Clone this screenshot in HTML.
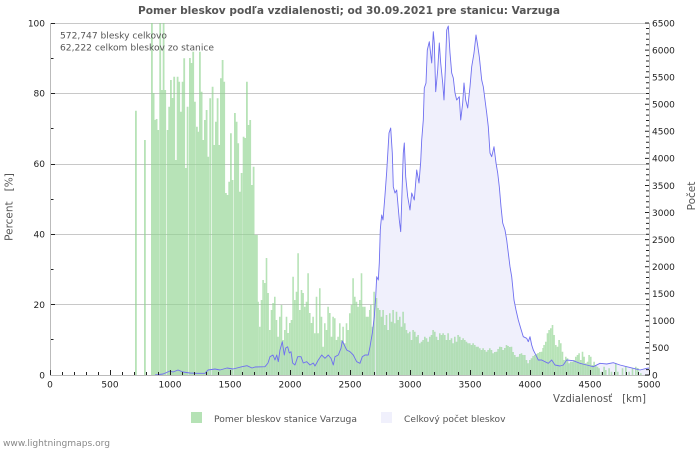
<!DOCTYPE html>
<html><head><meta charset="utf-8"><style>
html,body{margin:0;padding:0;background:#fff;}
svg{display:block;font-family:"DejaVu Sans","Liberation Sans",sans-serif;}
</style></head><body>
<svg width="700" height="450" viewBox="0 0 700 450" xmlns="http://www.w3.org/2000/svg">
<rect width="700" height="450" fill="#fff"/>
<!-- grid -->
<g stroke="#c8c8c8" stroke-width="1">
<line x1="50" y1="23.5" x2="649" y2="23.5"/>
<line x1="50" y1="93.5" x2="649" y2="93.5"/>
<line x1="50" y1="164.5" x2="649" y2="164.5"/>
<line x1="50" y1="234.5" x2="649" y2="234.5"/>
<line x1="50" y1="304.5" x2="649" y2="304.5"/>
</g>
<!-- lavender area -->
<polygon fill="#f0f0fc" points="155,375 163,374 170,371 173,372 178,370 183,372 190,373 197,373.3 205,373.3 208,370 215,369 220,370 227,368 233,369 242,366.7 247,365.7 252,368 255,367 265,366.7 268,363 270,356.7 273,355 275,360 276.7,355 278.3,361.7 280,350 282.3,341.7 284.3,355 285.7,348 287.7,346.7 289.3,353 291,351.7 292.7,363 295,365 297.7,356.7 301,356.7 303.3,363 306.7,361.7 310,365 313.3,363 315,366 318.3,360 321.7,355 325,358.3 328.3,355 331,358.3 333.3,365 335,356.7 338.3,355 341,348.3 342.3,341 344.3,345 346.7,350 350,351.7 353.3,355 356.7,361.7 360,363.3 362.3,356.7 365,355 368.3,355 370,346.7 372.3,333.3 374.3,316.7 375.7,296.7 376.7,276.7 378.3,280 379.3,263 380.3,230 380.7,225 381.7,215 383,220 385,195 386.7,171.7 389,133 390.7,128 392.3,153 393.3,186.7 395,193 396.7,190 399.3,220 400.7,231.7 401.7,201.7 403.3,153 404.3,143 405.7,176.7 407.7,196.7 410,210 411.7,193 414.3,200 416.7,170 419,183 420.7,161.7 421.7,140 423.3,120 424.3,88 426,83 427.3,50 429.3,41.7 431.7,63 433.3,31.7 434.3,43 435.7,91.7 437.7,70 439.3,43 440.7,63 442.7,83 444,100 445.3,70 446.7,30 448.3,26 450,53 451.7,73 453.3,78 455,93 456.7,100 459.3,96.7 460.7,120 462.7,103 464,83 465.7,100 467.7,108 470,86.7 471.7,66.7 474,53 476,35 477.3,43 479.3,56.7 481.7,80 483.3,86.7 485,100 486.7,113 488.3,126.7 490,153 491.7,156.7 494,146.7 496,163 497.7,173 499.3,186.7 501,206.7 502.7,223 505,230 506.7,240 508.3,253 510,266.7 511.7,276.7 512.7,286.7 514,300 516,310 518.3,320 520.7,328.3 523.3,336.7 526.7,338.3 528.3,341.7 530,336.7 531.7,345 533.3,350 535,353.3 536.7,356.7 538.3,360 541.7,360 545,361.7 548.3,363.3 551.7,360 555,365 560,366 563.3,365 566.7,360 573.3,360.7 580,363.3 586.7,365 593.3,366.7 600,363.3 606.7,364 613.3,362.7 620,365 626.7,366.7 633.3,368.3 640,370 646.7,368.3 649,368 649,375"/>
<!-- bars -->
<path fill="rgba(145,212,145,0.66)" d="
M135 375V110.7h1.8V375zM144 375V140h1.8V375zM151 375V23h1.8V375zM152.7 375V93h1.8V375zM154.3 375V120h1.8V375zM155.7 375V119h1.8V375zM157.3 375V130h1.8V375zM159.3 375V23h1.8V375zM161 375V90h1.8V375zM162.7 375V23h1.8V375zM164.3 375V90h1.8V375zM166.7 375V130h1.8V375zM168.3 375V106.7h1.8V375zM170 375V80h1.8V375zM171.7 375V98h1.8V375zM173.3 375V76.7h1.8V375zM175 375V160h1.8V375zM176.7 375V76.7h1.8V375zM178.3 375V81.7h1.8V375zM180 375V111.7h1.8V375zM181.7 375V81.7h1.8V375zM183.3 375V58.3h1.8V375zM185 375V168h1.8V375zM186.7 375V106.7h1.8V375zM189 375V58h1.8V375zM190.7 375V63h1.8V375zM192.3 375V51.7h1.8V375zM194 375V101.7h1.8V375zM196 375V126.7h1.8V375zM197.3 375V131.7h1.8V375zM199 375V51.7h1.8V375zM200.7 375V91.7h1.8V375zM202.3 375V140h1.8V375zM204 375V120h1.8V375zM205.7 375V110h1.8V375zM207.3 375V156.7h1.8V375zM209.3 375V98.3h1.8V375zM211.7 375V86.7h1.8V375zM213.3 375V145h1.8V375zM215 375V121.7h1.8V375zM216.7 375V98.3h1.8V375zM218.3 375V145h1.8V375zM220 375V78.3h1.8V375zM221.7 375V60h1.8V375zM223.3 375V81.7h1.8V375zM225 375V193h1.8V375zM226.7 375V195h1.8V375zM228.3 375V181.7h1.8V375zM230 375V133.3h1.8V375zM231.7 375V180h1.8V375zM234 375V113h1.8V375zM235.7 375V121.7h1.8V375zM237.3 375V143.3h1.8V375zM239 375V191.7h1.8V375zM240.7 375V173h1.8V375zM242.7 375V136.7h1.8V375zM244.3 375V138h1.8V375zM246 375V81.7h1.8V375zM247.7 375V125h1.8V375zM249.3 375V120h1.8V375zM251 375V185h1.8V375zM252.7 375V166.7h1.8V375zM254.3 375V235h1.8V375zM256 375V235h1.8V375z
M257.3 375V301.7h1.6V375zM259 375V326.7h1.6V375zM260.7 375V300h1.6V375zM262.3 375V280h1.6V375zM264 375V283h1.6V375zM265.7 375V258h1.6V375zM267.3 375V293h1.6V375zM269 375V330h1.6V375zM270.7 375V310h1.6V375zM272.3 375V303h1.6V375zM274 375V296.7h1.6V375zM275.7 375V320h1.6V375zM277.3 375V336.7h1.6V375zM279 375V316.7h1.6V375zM280.7 375V305h1.6V375zM282.3 375V340h1.6V375zM284 375V330h1.6V375zM285.7 375V316.7h1.6V375zM287.3 375V333h1.6V375zM289 375V323h1.6V375zM290.7 375V320h1.6V375zM292.3 375V276.7h1.6V375zM294 375V300h1.6V375zM295.7 375V291.7h1.6V375zM297.3 375V253.3h1.6V375zM299 375V310h1.6V375zM300.7 375V290h1.6V375zM302.3 375V293h1.6V375zM304 375V306.7h1.6V375zM305.7 375V301.7h1.6V375zM307.3 375V273.3h1.6V375zM309 375V313h1.6V375zM310.7 375V323h1.6V375zM312.3 375V316.7h1.6V375zM314 375V333.3h1.6V375zM315.7 375V296.7h1.6V375zM317.3 375V333.3h1.6V375zM319 375V288.3h1.6V375zM320.7 375V316.7h1.6V375zM322.3 375V346.7h1.6V375zM324 375V323.3h1.6V375zM325.7 375V330h1.6V375zM327.3 375V306.7h1.6V375zM329 375V313h1.6V375zM330.7 375V336.7h1.6V375zM332.3 375V316.7h1.6V375zM334 375V318.3h1.6V375zM335.7 375V340h1.6V375zM337.3 375V336.7h1.6V375zM339 375V323.3h1.6V375zM340.7 375V340h1.6V375zM342.3 375V326.7h1.6V375zM344 375V343.3h1.6V375zM345.7 375V323.3h1.6V375zM347.3 375V330h1.6V375zM349 375V313.3h1.6V375zM350.7 375V305h1.6V375zM352.3 375V278.3h1.6V375zM354 375V296.7h1.6V375zM355.7 375V301.7h1.6V375zM357.3 375V306.7h1.6V375zM359 375V300h1.6V375zM360.7 375V273.3h1.6V375zM362.3 375V306.7h1.6V375zM364 375V306.7h1.6V375zM365.7 375V316.7h1.6V375zM367.3 375V316.7h1.6V375zM369 375V310h1.6V375z
M370 375V305h1.6V375zM371.7 375V326.7h1.6V375zM373.3 375V291.7h1.6V375zM375.7 375V298h1.6V375zM377.3 375V308h1.6V375zM379 375V310h1.6V375zM380.7 375V316.7h1.6V375zM382.3 375V310h1.6V375zM384 375V325h1.6V375zM385.7 375V315h1.6V375zM387.3 375V330h1.6V375zM389 375V313.3h1.6V375zM390.7 375V321.7h1.6V375zM392.3 375V310h1.6V375zM394 375V323.3h1.6V375zM395.7 375V311.7h1.6V375zM397.3 375V320h1.6V375zM399 375V316.7h1.6V375zM400.7 375V326.7h1.6V375zM402.3 375V311.7h1.6V375zM404 375V323.3h1.6V375zM405.7 375V330h1.6V375zM407.3 375V333.3h1.6V375zM409 375V331.7h1.6V375zM410.7 375V340h1.6V375zM412.3 375V330h1.6V375zM414 375V331.7h1.6V375zM415.7 375V336.7h1.6V375zM417.3 375V335h1.6V375zM419 375V343.3h1.6V375zM420.7 375V341.7h1.6V375zM422.3 375V340h1.6V375zM424 375V336.7h1.6V375zM425.7 375V338.3h1.6V375zM427.3 375V341.7h1.6V375zM429 375V336.7h1.6V375zM430.7 375V335h1.6V375zM432.3 375V330h1.6V375zM434 375V331.7h1.6V375zM435.7 375V336.7h1.6V375zM437.3 375V340h1.6V375zM439 375V333.3h1.6V375zM440.7 375V335h1.6V375zM442.3 375V333.3h1.6V375zM444 375V335h1.6V375zM445.7 375V340h1.6V375zM447.3 375V333.3h1.6V375zM449 375V340h1.6V375zM450.7 375V338.3h1.6V375zM452.3 375V343.3h1.6V375zM454 375V336.7h1.6V375zM455.7 375V341.7h1.6V375zM457.3 375V335h1.6V375zM459 375V336.7h1.6V375zM460.7 375V340h1.6V375zM462.3 375V338.3h1.6V375zM464 375V340h1.6V375zM465.7 375V341.7h1.6V375zM467.3 375V343.3h1.6V375zM469 375V343.3h1.6V375zM470.7 375V345h1.6V375zM472.3 375V343.3h1.6V375zM474 375V345h1.6V375zM475.7 375V346.7h1.6V375zM477.3 375V346.7h1.6V375zM479 375V348.3h1.6V375zM480.7 375V350h1.6V375zM482.3 375V348.3h1.6V375zM484 375V350h1.6V375zM485.7 375V351.7h1.6V375zM487.3 375V350h1.6V375zM489 375V348.3h1.6V375z
M490.7 375V350h1.6V375zM492.3 375V353.3h1.6V375zM494 375V352h1.6V375zM495.7 375V351.7h1.6V375zM497.3 375V349h1.6V375zM499 375V346.7h1.6V375zM500.7 375V347h1.6V375zM502.3 375V350h1.6V375zM504 375V348h1.6V375zM505.7 375V345h1.6V375zM507.3 375V346h1.6V375zM509 375V347h1.6V375zM510.7 375V346.7h1.6V375zM512.3 375V352h1.6V375zM514 375V355h1.6V375zM515.7 375V357h1.6V375zM517.3 375V356.7h1.6V375zM519 375V354h1.6V375zM520.7 375V353.3h1.6V375zM522.3 375V355h1.6V375zM524 375V355h1.6V375zM525.7 375V360h1.6V375zM527.3 375V363.3h1.6V375zM529 375V360h1.6V375zM530.7 375V358.3h1.6V375zM532.3 375V356h1.6V375zM534 375V355h1.6V375zM535.7 375V354h1.6V375zM537.3 375V353h1.6V375zM539 375V352h1.6V375zM540.7 375V351.7h1.6V375zM542.3 375V348h1.6V375zM543.3 375V345h1.6V375zM545 375V341.7h1.6V375zM546.7 375V333.3h1.6V375zM548.3 375V330h1.6V375zM550 375V328.3h1.6V375zM551.7 375V325h1.6V375zM553.3 375V335h1.6V375zM555 375V345h1.6V375zM556.7 375V346.7h1.6V375zM558.3 375V340h1.6V375zM560 375V343.3h1.6V375zM561.7 375V351.7h1.6V375zM563.3 375V360h1.6V375zM565 375V356.7h1.6V375zM566.7 375V358.3h1.6V375zM568.3 375V363.3h1.6V375zM570 375V361.7h1.6V375zM571.7 375V361.7h1.6V375zM573.3 375V360h1.6V375zM575 375V356.7h1.6V375zM576.7 375V355h1.6V375zM578.3 375V353.3h1.6V375zM580 375V360h1.6V375zM581.7 375V351.7h1.6V375zM583.3 375V356.7h1.6V375zM585 375V363.3h1.6V375zM586.7 375V361.7h1.6V375zM588.3 375V355h1.6V375zM590 375V356.7h1.6V375zM591.7 375V365h1.6V375zM593.3 375V361.7h1.6V375zM595 375V365h1.6V375zM596.7 375V366.7h1.6V375zM598.3 375V368.3h1.6V375zM600.7 375V371.7h1.6V375zM603.3 375V366.7h1.6V375zM605 375V370h1.6V375zM608.3 375V368.3h1.6V375zM610.7 375V371.7h1.6V375zM615 375V363.3h1.6V375zM617 375V371.7h1.6V375zM621.7 375V368.3h1.6V375zM625 375V366.7h1.6V375zM628.3 375V371.7h1.6V375zM631.7 375V368.3h1.6V375zM635 375V366.7h1.6V375zM637 375V368h1.6V375zM640 375V373.3h1.6V375z"/>
<!-- line -->
<polyline fill="none" stroke="#6f6ff0" stroke-width="0.9" stroke-linejoin="round" points="155,375 163,374 170,371 173,372 178,370 183,372 190,373 197,373.3 205,373.3 208,370 215,369 220,370 227,368 233,369 242,366.7 247,365.7 252,368 255,367 265,366.7 268,363 270,356.7 273,355 275,360 276.7,355 278.3,361.7 280,350 282.3,341.7 284.3,355 285.7,348 287.7,346.7 289.3,353 291,351.7 292.7,363 295,365 297.7,356.7 301,356.7 303.3,363 306.7,361.7 310,365 313.3,363 315,366 318.3,360 321.7,355 325,358.3 328.3,355 331,358.3 333.3,365 335,356.7 338.3,355 341,348.3 342.3,341 344.3,345 346.7,350 350,351.7 353.3,355 356.7,361.7 360,363.3 362.3,356.7 365,355 368.3,355 370,346.7 372.3,333.3 374.3,316.7 375.7,296.7 376.7,276.7 378.3,280 379.3,263 380.3,230 380.7,225 381.7,215 383,220 385,195 386.7,171.7 389,133 390.7,128 392.3,153 393.3,186.7 395,193 396.7,190 399.3,220 400.7,231.7 401.7,201.7 403.3,153 404.3,143 405.7,176.7 407.7,196.7 410,210 411.7,193 414.3,200 416.7,170 419,183 420.7,161.7 421.7,140 423.3,120 424.3,88 426,83 427.3,50 429.3,41.7 431.7,63 433.3,31.7 434.3,43 435.7,91.7 437.7,70 439.3,43 440.7,63 442.7,83 444,100 445.3,70 446.7,30 448.3,26 450,53 451.7,73 453.3,78 455,93 456.7,100 459.3,96.7 460.7,120 462.7,103 464,83 465.7,100 467.7,108 470,86.7 471.7,66.7 474,53 476,35 477.3,43 479.3,56.7 481.7,80 483.3,86.7 485,100 486.7,113 488.3,126.7 490,153 491.7,156.7 494,146.7 496,163 497.7,173 499.3,186.7 501,206.7 502.7,223 505,230 506.7,240 508.3,253 510,266.7 511.7,276.7 512.7,286.7 514,300 516,310 518.3,320 520.7,328.3 523.3,336.7 526.7,338.3 528.3,341.7 530,336.7 531.7,345 533.3,350 535,353.3 536.7,356.7 538.3,360 541.7,360 545,361.7 548.3,363.3 551.7,360 555,365 560,366 563.3,365 566.7,360 573.3,360.7 580,363.3 586.7,365 593.3,366.7 600,363.3 606.7,364 613.3,362.7 620,365 626.7,366.7 633.3,368.3 640,370 646.7,368.3 649,368"/>
<!-- axes -->
<g stroke="#bbbbbb" stroke-width="1">
<line x1="50.5" y1="23" x2="50.5" y2="375.5"/>
<line x1="649.5" y1="23" x2="649.5" y2="375.5"/>
<line x1="50" y1="375.5" x2="650" y2="375.5"/>
</g>
<!-- bottom ticks -->
<g stroke="#222" stroke-width="1">
<path d="M50.5 375V370M62.5 375V372M74.5 375V372M86.5 375V372M98.5 375V372M110.5 375V370M122.5 375V372M134.5 375V372M146.5 375V372M158.5 375V372M170.5 375V370M182.5 375V372M194.5 375V372M206.5 375V372M218.5 375V372M230.5 375V370M242.5 375V372M254.5 375V372M266.5 375V372M278.5 375V372M290.5 375V370M302.5 375V372M314.5 375V372M326.5 375V372M338.5 375V372M350.5 375V370M362.5 375V372M374.5 375V372M386.5 375V372M398.5 375V372M410.5 375V370M422.5 375V372M434.5 375V372M446.5 375V372M458.5 375V372M470.5 375V370M482.5 375V372M494.5 375V372M506.5 375V372M518.5 375V372M530.5 375V370M542.5 375V372M554.5 375V372M566.5 375V372M578.5 375V372M590.5 375V370M602.5 375V372M614.5 375V372M626.5 375V372M638.5 375V372M649.5 375V370"/>
<!-- left ticks -->
<path d="M51 23.5H55M51 58.5H53.5M51 93.5H55M51 128.5H53.5M51 164.5H55M51 199.5H53.5M51 234.5H55M51 269.5H53.5M51 304.5H55M51 339.5H53.5"/>
<!-- right ticks every 100 -->
<path d="M645 375H649M646 369.6H649M646 364.2H649M646 358.8H649M646 353.3H649M645 347.9H649M646 342.5H649M646 337.1H649M646 331.7H649M646 326.3H649M645 320.8H649M646 315.4H649M646 310H649M646 304.6H649M646 299.2H649M645 293.8H649M646 288.4H649M646 282.9H649M646 277.5H649M646 272.1H649M645 266.7H649M646 261.3H649M646 255.9H649M646 250.5H649M646 245.1H649M645 239.6H649M646 234.2H649M646 228.8H649M646 223.4H649M646 218H649M645 212.5H649M646 207.1H649M646 201.7H649M646 196.3H649M646 190.9H649M645 185.5H649M646 180.1H649M646 174.7H649M646 169.3H649M646 163.8H649M645 158.4H649M646 153H649M646 147.6H649M646 142.2H649M646 136.8H649M645 131.3H649M646 125.9H649M646 120.5H649M646 115.1H649M646 109.7H649M645 104.3H649M646 98.9H649M646 93.5H649M646 88.1H649M646 82.7H649M645 77.2H649M646 71.8H649M646 66.4H649M646 61H649M646 55.6H649M645 50.1H649M646 44.7H649M646 39.3H649M646 33.9H649M646 28.5H649M645 23H649"/>
</g>
<!-- labels -->
<g font-size="9" fill="#222" text-anchor="end">
<text x="45" y="26.3">100</text>
<text x="45" y="96.7">80</text>
<text x="45" y="167.1">60</text>
<text x="45" y="237.5">40</text>
<text x="45" y="307.9">20</text>
<text x="45" y="378.3">0</text>
</g>
<g font-size="9" fill="#222" text-anchor="start">
<text x="652" y="26.3">6500</text>
<text x="652" y="53.4">6000</text>
<text x="652" y="80.5">5500</text>
<text x="652" y="107.6">5000</text>
<text x="652" y="134.6">4500</text>
<text x="652" y="161.7">4000</text>
<text x="652" y="188.8">3500</text>
<text x="652" y="215.9">3000</text>
<text x="652" y="243">2500</text>
<text x="652" y="270">2000</text>
<text x="652" y="297.1">1500</text>
<text x="652" y="324.2">1000</text>
<text x="652" y="351.2">500</text>
<text x="652" y="378.3">0</text>
</g>
<g font-size="9" fill="#222" text-anchor="middle">
<text x="50" y="387.5">0</text>
<text x="110" y="387.5">500</text>
<text x="170" y="387.5">1000</text>
<text x="230" y="387.5">1500</text>
<text x="290" y="387.5">2000</text>
<text x="350" y="387.5">2500</text>
<text x="410" y="387.5">3000</text>
<text x="470" y="387.5">3500</text>
<text x="530" y="387.5">4000</text>
<text x="590" y="387.5">4500</text>
<text x="649" y="387.5">5000</text>
</g>
<text x="138" y="14" font-size="11" font-weight="bold" fill="#555" textLength="422" lengthAdjust="spacingAndGlyphs">Pomer bleskov podľa vzdialenosti; od 30.09.2021 pre stanicu: Varzuga</text>
<text x="60" y="38.5" font-size="9.2" fill="#555" textLength="107" lengthAdjust="spacingAndGlyphs">572,747 blesky celkovo</text>
<text x="60" y="50.7" font-size="9.2" fill="#555" textLength="154" lengthAdjust="spacingAndGlyphs">62,222 celkom bleskov zo stanice</text>
<text x="553" y="402" font-size="10.5" fill="#555" style="white-space:pre" textLength="93" lengthAdjust="spacingAndGlyphs">Vzdialenosť   [km]</text>
<text transform="translate(12.5,207) rotate(-90)" font-size="10.5" fill="#555" text-anchor="middle" style="white-space:pre">Percent   [%]</text>
<text transform="translate(695,196) rotate(-90)" font-size="10.5" fill="#555" text-anchor="middle">Počet</text>
<rect x="191" y="412" width="11" height="11" fill="#b5e2b5"/>
<text x="214" y="422" font-size="9.2" fill="#555" textLength="143" lengthAdjust="spacingAndGlyphs">Pomer bleskov stanice Varzuga</text>
<rect x="381" y="412" width="11" height="11" fill="#f0f0fc"/>
<text x="404" y="422" font-size="9.2" fill="#555" textLength="101.5" lengthAdjust="spacingAndGlyphs">Celkový počet bleskov</text>
<text x="3" y="446" font-size="9.2" fill="#888" textLength="107" lengthAdjust="spacingAndGlyphs">www.lightningmaps.org</text>
</svg>
</body></html>
